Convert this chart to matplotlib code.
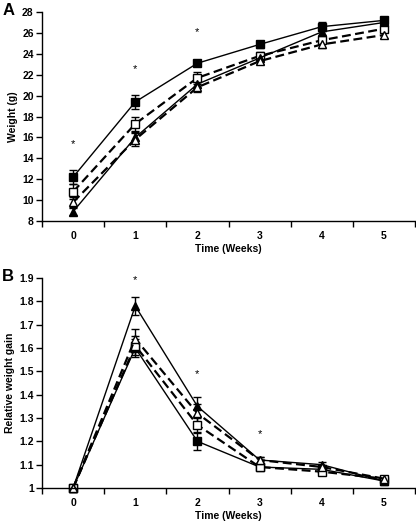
import matplotlib
matplotlib.use("Agg")
import matplotlib.pyplot as plt
import numpy as np

plt.rcParams['font.family'] = ['Liberation Sans', 'DejaVu Sans']
plt.rcParams['font.weight'] = 'bold'

weeks = [0, 1, 2, 3, 4, 5]

# panel A: weight (g)
w_fsq = [12.2, 19.4, 23.1, 24.9, 26.6, 27.2]
w_osq = [10.8, 17.3, 21.7, 23.8, 25.3, 26.4]
w_ftr = [8.9, 16.0, 21.1, 23.6, 26.1, 27.0]
w_otr = [9.8, 15.8, 20.8, 23.3, 24.9, 25.8]
we_fsq = [0.7, 0.7, 0.3, 0.3, 0.4, 0.3]
we_osq = [0.7, 0.7, 0.6, 0.4, 0.3, 0.3]
we_ftr = [0.3, 0.5, 0.4, 0.3, 0.3, 0.3]
we_otr = [0.5, 0.6, 0.5, 0.3, 0.3, 0.3]
stars_a_x = [0, 1, 2]
stars_a_y = [15.4, 22.5, 26.1]

# panel B: relative weight gain
g_fsq = [1.0, 1.60, 1.20, 1.09, 1.08, 1.03]
g_osq = [1.0, 1.61, 1.27, 1.09, 1.07, 1.04]
g_ftr = [1.0, 1.78, 1.35, 1.12, 1.10, 1.03]
g_otr = [1.0, 1.64, 1.32, 1.12, 1.09, 1.04]
ge_fsq = [0.0, 0.04, 0.035, 0.01, 0.01, 0.01]
ge_osq = [0.0, 0.04, 0.03, 0.01, 0.01, 0.01]
ge_ftr = [0.0, 0.04, 0.04, 0.015, 0.01, 0.01]
ge_otr = [0.0, 0.04, 0.04, 0.015, 0.01, 0.01]
stars_b_x = [1, 2, 3]
stars_b_y = [1.89, 1.49, 1.23]

fig = plt.figure(figsize=(4.16, 5.23), dpi=100)
axA = fig.add_axes([0.101, 0.5774, 0.8966, 0.3996])
axB = fig.add_axes([0.101, 0.0669, 0.8966, 0.4016])

styles = [
    dict(marker='s', mfc='black', ls='-', lw=1.0),
    dict(marker='s', mfc='white', ls=(0, (4, 2)), lw=1.6),
    dict(marker='^', mfc='black', ls='-', lw=1.0),
    dict(marker='^', mfc='white', ls=(0, (4, 2)), lw=1.6),
]


def draw(ax, series, errs, sx, sy):
    for y, e, st in zip(series, errs, styles):
        ax.errorbar(weeks, y, yerr=e, color='black', mec='black', ms=6,
                    capsize=3, elinewidth=1, capthick=1, marker=st['marker'],
                    mfc=st['mfc'], ls=st['ls'], lw=st['lw'], clip_on=False)
    for x, y in zip(sx, sy):
        ax.text(x, y, '*', ha='center', va='center', fontsize=8,
                fontweight='normal')
    ax.set_xlim(-0.5, 5.5)
    ax.set_xticks(np.arange(-0.5, 6.0, 1.0))
    ax.set_xticklabels([])
    ax.set_xticks(weeks, minor=True)
    ax.set_xticklabels([str(w) for w in weeks], minor=True)
    ax.tick_params(axis='x', which='minor', length=0, pad=7, labelsize=7.5)
    ax.tick_params(axis='x', which='major', length=4, width=1, direction='out')
    ax.tick_params(axis='y', length=4, width=1, direction='out', labelsize=7.5, pad=2)
    for s in ['top', 'right']:
        ax.spines[s].set_visible(False)
    for s in ['left', 'bottom']:
        ax.spines[s].set_linewidth(1)
    ax.set_xlabel('Time (Weeks)', fontsize=7.5, fontweight='bold', labelpad=2)


draw(axA, [w_fsq, w_osq, w_ftr, w_otr], [we_fsq, we_osq, we_ftr, we_otr],
     stars_a_x, stars_a_y)
axA.set_ylim(8, 28)
axA.set_yticks(range(8, 29, 2))
axA.set_ylabel('Weight (g)', fontsize=7.5, fontweight='bold', labelpad=3)

draw(axB, [g_fsq, g_osq, g_ftr, g_otr], [ge_fsq, ge_osq, ge_ftr, ge_otr],
     stars_b_x, stars_b_y)
axB.set_ylim(1, 1.9)
axB.set_yticks(np.round(np.arange(1.0, 1.91, 0.1), 1))
axB.set_yticklabels(['1', '1.1', '1.2', '1.3', '1.4', '1.5', '1.6', '1.7', '1.8', '1.9'])
axB.set_ylabel('Relative weight gain', fontsize=7.5, fontweight='bold', labelpad=3)

fig.text(0.005, 0.995, 'A', fontsize=12, fontweight='bold', va='top')
fig.text(0.005, 0.485, 'B', fontsize=12, fontweight='bold', va='top')

fig.savefig('out.png', dpi=100)
